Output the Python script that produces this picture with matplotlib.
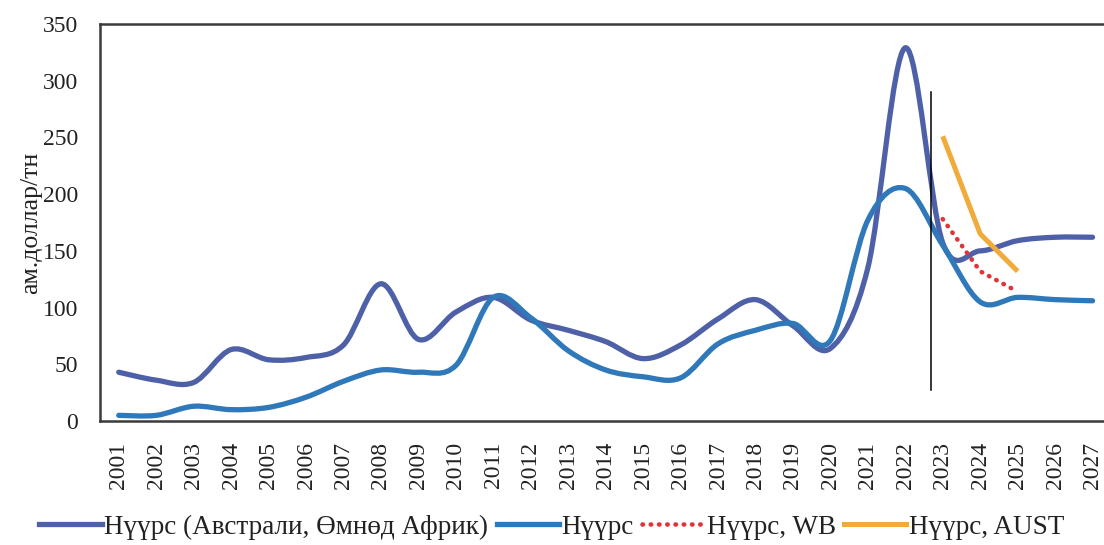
#Coal price chart: Australia / South Africa price vs Mongolian coal, with forecasts
import numpy as np
from matplotlib import pyplot as plt
from matplotlib.path import Path
from matplotlib.patches import PathPatch

plt.rcParams['font.family'] = ['Liberation Serif', 'DejaVu Serif']

#Data
years = [str(y) for y in range(2001, 2028)]
price_aus_sa = [43, 36, 34, 63, 54, 56, 67, 121, 72, 96, 109, 89, 80, 70, 55,
                67, 90, 107, 84, 64, 135, 329, 157, 150, 159, 162, 162]
price_coal = [5, 5, 13, 10, 12, 21, 35, 45, 43, 49, 109, 91, 62, 45, 39,
              38, 68, 80, 86, 71, 177, 205, 155, 105, 109, 107, 106]
wb_years = ['2023', '2024', '2025']
price_wb = [178, 132, 114]
aust_years = ['2023', '2024', '2025']
price_aust = [251, 165, 132]

labels = ['Нүүрс (Австрали, Өмнөд Африк)', 'Нүүрс', 'Нүүрс, WB', 'Нүүрс, AUST']
colors = ['#4e61a8', '#2f78ba', '#e0343a', '#f0ab3a']


def smooth_path(xs, ys):
    #Excel style smoothed line: catmull-rom segments as cubic beziers
    pts = np.column_stack([xs, ys]).astype(float)
    n = len(pts)
    verts = [pts[0]]
    codes = [Path.MOVETO]
    for i in range(n - 1):
        p0 = pts[i - 1] if i > 0 else pts[i]
        p1 = pts[i]
        p2 = pts[i + 1]
        p3 = pts[i + 2] if i + 2 < n else pts[i + 1]
        verts += [p1 + (p2 - p0) / 6, p2 - (p3 - p1) / 6, p2]
        codes += [Path.CURVE4] * 3
    return Path(verts, codes)


fig = plt.figure(figsize=(11.04, 5.45), dpi=100)
ax = fig.add_axes([0.0906, 0.2275, 0.916, 0.7285])

x = np.arange(len(years))
for vals, col in [(price_aus_sa, colors[0]), (price_coal, colors[1])]:
    patch = PathPatch(smooth_path(x, vals), fill=False, edgecolor=col, lw=3.8,
                      capstyle='round', joinstyle='round', transform=ax.transData)
    ax.add_patch(patch)

x_wb = [years.index(y) for y in wb_years]
ax.plot(x_wb, price_wb, color=colors[2], lw=3.3, linestyle=(0, (0.1, 1.7)),
        dash_capstyle='round')
x_aust = [years.index(y) for y in aust_years]
ax.plot(x_aust, price_aust, color=colors[3], lw=3.6, solid_capstyle='butt')

#Forecast divider
ax.plot([21.68, 21.68], [27, 290], color='black', lw=1.1)

#Legend proxies
ax.plot([], [], color=colors[0], lw=3.8, label=labels[0])
ax.plot([], [], color=colors[1], lw=3.8, label=labels[1])
ax.plot([], [], color=colors[2], lw=3.3, linestyle=(0, (0.1, 1.7)),
        dash_capstyle='round', label=labels[2])
ax.plot([], [], color=colors[3], lw=3.6, label=labels[3])

ax.set_xlim(-0.5, len(years) - 0.5)
ax.set_ylim(0, 350)
ax.set_xticks(x)
ax.set_xticklabels(years, rotation=90)
ax.set_yticks(range(0, 351, 50))
ax.tick_params(axis='both', length=0, labelsize=17, colors='#222222')
ax.tick_params(axis='y', pad=16)
ax.tick_params(axis='x', pad=15)
ax.set_ylabel('ам.доллар/тн', fontsize=18.5, color='#222222', labelpad=0)

for side in ['left', 'top', 'bottom']:
    ax.spines[side].set_color('#3a3a3a')
    ax.spines[side].set_linewidth(1.8)
ax.spines['right'].set_visible(False)

handles, labs = ax.get_legend_handles_labels()
fig.legend(handles[-4:], labs[-4:], loc='lower center', bbox_to_anchor=(0.5, -0.035),
           ncol=4, frameon=False, fontsize=19.5, handlelength=2.3,
           handletextpad=0.1, columnspacing=0.3, labelcolor='#222222')

fig.savefig('out.png', dpi=100)
